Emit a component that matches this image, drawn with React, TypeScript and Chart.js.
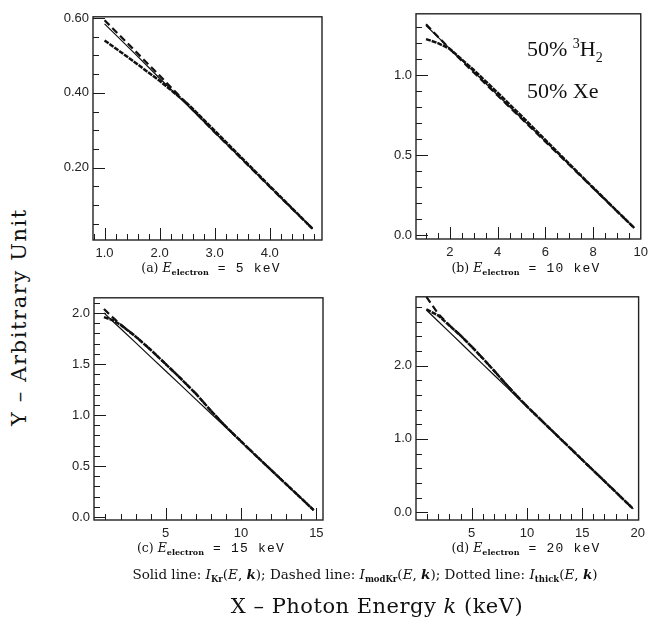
import React, { useEffect, useRef } from "react";
import { Chart, registerables } from "chart.js";
Chart.register(...registerables);

// ---------- Panel (a): E_electron = 5 keV ----------
const kA = [1.0, 1.5, 2.0, 2.5, 3.0, 3.5, 4.0, 4.5, 4.78];
const solidA = [0.584, 0.512, 0.439, 0.367, 0.294, 0.222, 0.149, 0.077, 0.037];
const dashedA = [0.594, 0.52, 0.446, 0.37, 0.295, 0.222, 0.149, 0.077, 0.037];
const dottedA = [0.54, 0.487, 0.432, 0.372, 0.299, 0.225, 0.151, 0.078, 0.037];
const xTicksA = [1.0, 2.0, 3.0, 4.0];
const yTicksA = [0.2, 0.4, 0.6];

// ---------- Panel (b): E_electron = 10 keV ----------
const kB = [1.0, 1.5, 2.0, 3.0, 4.0, 5.0, 6.0, 7.0, 8.0, 9.0, 9.72];
const solidB = [1.31, 1.237, 1.165, 1.02, 0.875, 0.73, 0.585, 0.44, 0.294, 0.149, 0.045];
const dashedB = [1.318, 1.24, 1.163, 1.016, 0.872, 0.728, 0.584, 0.439, 0.294, 0.149, 0.045];
const dottedB = [1.225, 1.2, 1.163, 1.032, 0.89, 0.744, 0.594, 0.445, 0.297, 0.15, 0.045];
const xTicksB = [2, 4, 6, 8, 10];
const yTicksB = [0.0, 0.5, 1.0];

// ---------- Panel (c): E_electron = 15 keV ----------
const kC = [0.9, 1.5, 2, 3, 4, 5, 6, 7, 8, 9, 10, 11, 12, 13, 14, 14.82];
const solidC = [2.002, 1.918, 1.849, 1.71, 1.571, 1.432, 1.293, 1.154, 1.015, 0.876, 0.737, 0.598, 0.459, 0.32, 0.181, 0.067];
const dashedC = [2.04, 1.955, 1.89, 1.772, 1.64, 1.5, 1.358, 1.21, 1.042, 0.885, 0.742, 0.6, 0.46, 0.321, 0.182, 0.067];
const dottedC = [1.96, 1.93, 1.885, 1.77, 1.64, 1.5, 1.358, 1.21, 1.042, 0.885, 0.742, 0.6, 0.46, 0.321, 0.182, 0.067];
const xTicksC = [5, 10, 15];
const yTicksC = [0.0, 0.5, 1.0, 1.5, 2.0];

// ---------- Panel (d): E_electron = 20 keV ----------
const kD = [0.92, 2, 3, 4, 5, 6, 7, 8, 9, 10, 11, 12, 13, 14, 15, 16, 17, 18, 19, 19.6];
const solidD = [2.76, 2.603, 2.457, 2.312, 2.166, 2.021, 1.876, 1.73, 1.585, 1.439, 1.294, 1.149, 1.003, 0.858, 0.712, 0.567, 0.422, 0.276, 0.131, 0.044];
const dashedD = [2.94, 2.705, 2.55, 2.414, 2.262, 2.102, 1.937, 1.766, 1.601, 1.445, 1.297, 1.151, 1.005, 0.86, 0.713, 0.568, 0.423, 0.277, 0.131, 0.044];
const dottedD = [2.77, 2.683, 2.547, 2.412, 2.261, 2.101, 1.936, 1.765, 1.6, 1.444, 1.297, 1.151, 1.005, 0.86, 0.713, 0.568, 0.423, 0.277, 0.131, 0.044];
const xTicksD = [5, 10, 15, 20];
const yTicksD = [0.0, 1.0, 2.0];

type PanelCfg = {
  frame: [number, number, number, number]; // L T R B page px
  xr: [number, number];
  yr: [number, number];
  k: number[];
  solid: number[];
  dashed: number[];
  dotted: number[];
  xt: number[];
  yt: number[];
  xdec: number;
  ydec: number;
  xminor: number;
  yminor: number;
};

const panels: PanelCfg[] = [
  { frame: [93, 13, 322, 240], xr: [0.79, 4.95], yr: [0.007, 0.603], k: kA, solid: solidA, dashed: dashedA, dotted: dottedA, xt: xTicksA, yt: yTicksA, xdec: 1, ydec: 2, xminor: 0.2, yminor: 0.05 },
  { frame: [416, 10, 642, 239], xr: [0.58, 10.0], yr: [-0.025, 1.383], k: kB, solid: solidB, dashed: dashedB, dotted: dottedB, xt: xTicksB, yt: yTicksB, xdec: 0, ydec: 1, xminor: 0.5, yminor: 0.1 },
  { frame: [94, 294, 323, 520], xr: [0.24, 15.44], yr: [-0.03, 2.15], k: kC, solid: solidC, dashed: dashedC, dotted: dottedC, xt: xTicksC, yt: yTicksC, xdec: 0, ydec: 1, xminor: 1, yminor: 0.1 },
  { frame: [416, 293, 639, 520], xr: [-0.02, 20.08], yr: [-0.107, 2.94], k: kD, solid: solidD, dashed: dashedD, dotted: dottedD, xt: xTicksD, yt: yTicksD, xdec: 0, ydec: 1, xminor: 1, yminor: 0.2 },
];

const PAD_L = 45, PAD_T = 8, PAD_R = 12, PAD_B = 24;

const frameTicks = {
  id: "frameTicks",
  afterDatasetsDraw(chart: any, _args: any, opts: any) {
    const { ctx, chartArea: a } = chart;
    const x = chart.scales.x, y = chart.scales.y;
    ctx.save();
    ctx.strokeStyle = "#1a1a1a";
    ctx.lineWidth = 1;
    const snap = (p: number) => Math.round(p) + 0.5;
    const drawX = (v: number, len: number) => {
      const p = snap(x.getPixelForValue(v));
      if (p < a.left + 1 || p > a.right - 1) return;
      ctx.beginPath(); ctx.moveTo(p, a.bottom); ctx.lineTo(p, a.bottom - len); ctx.stroke();
    };
    const drawY = (v: number, len: number) => {
      const p = snap(y.getPixelForValue(v));
      if (p < a.top + 1 || p > a.bottom - 1) return;
      ctx.beginPath(); ctx.moveTo(a.left, p); ctx.lineTo(a.left + len, p); ctx.stroke();
    };
    const xs = opts.xminor, ys = opts.yminor;
    for (let i = Math.ceil(x.min / xs - 1e-6); i * xs <= x.max + 1e-9; i++) drawX(i * xs, 6);
    for (let i = Math.ceil(y.min / ys - 1e-6); i * ys <= y.max + 1e-9; i++) drawY(i * ys, 6);
    opts.xt.forEach((v: number) => drawX(v, 12));
    opts.yt.forEach((v: number) => drawY(v, 12));
    ctx.lineWidth = 1.4;
    ctx.strokeStyle = "#222";
    ctx.strokeRect(a.left, a.top, a.right - a.left, a.bottom - a.top);
    ctx.restore();
  },
};

function Panel({ cfg }: { cfg: PanelCfg }) {
  const ref = useRef<HTMLCanvasElement | null>(null);
  const [L, T, R, B] = cfg.frame;
  const w = R - L + PAD_L + PAD_R;
  const h = B - T + PAD_T + PAD_B;
  useEffect(() => {
    if (!ref.current) return;
    const pts = (ys: number[]) => cfg.k.map((k, i) => ({ x: k, y: ys[i] }));
    const chart = new Chart(ref.current, {
      type: "line",
      data: {
        datasets: [
          { data: pts(cfg.solid), borderColor: "#111", borderWidth: 1.2, pointRadius: 0, fill: false },
          { data: pts(cfg.dashed), borderColor: "#111", borderWidth: 2.2, borderDash: [7, 4], pointRadius: 0, fill: false },
          { data: pts(cfg.dotted), borderColor: "#111", borderWidth: 2.5, borderDash: [5, 1], pointRadius: 0, fill: false },
        ],
      },
      options: {
        animation: false,
        responsive: false,
        devicePixelRatio: 1,
        layout: { padding: { left: 0, top: PAD_T, right: PAD_R, bottom: 0 } },
        plugins: {
          legend: { display: false },
          tooltip: { enabled: false },
          frameTicks: { xt: cfg.xt, yt: cfg.yt, xminor: cfg.xminor, yminor: cfg.yminor },
        } as any,
        scales: {
          x: {
            type: "linear",
            min: cfg.xr[0],
            max: cfg.xr[1],
            grid: { display: false, drawTicks: false },
            border: { display: false },
            afterBuildTicks: (s: any) => { s.ticks = cfg.xt.map((v) => ({ value: v })); },
            afterFit: (s: any) => { s.height = PAD_B; },
            ticks: {
              autoSkip: false,
              maxRotation: 0,
              padding: 6,
              color: "#222",
              font: { family: "Liberation Sans", size: 13 },
              callback: (v: any) => Number(v).toFixed(cfg.xdec),
            },
          },
          y: {
            type: "linear",
            min: cfg.yr[0],
            max: cfg.yr[1],
            grid: { display: false, drawTicks: false },
            border: { display: false },
            afterBuildTicks: (s: any) => { s.ticks = cfg.yt.map((v) => ({ value: v })); },
            afterFit: (s: any) => { s.width = PAD_L; },
            ticks: {
              autoSkip: false,
              padding: 4,
              color: "#222",
              font: { family: "Liberation Sans", size: 13 },
              callback: (v: any) => Number(v).toFixed(cfg.ydec),
            },
          },
        },
      },
      plugins: [frameTicks],
    } as any);
    return () => chart.destroy();
  }, [cfg]);
  return (
    <canvas
      ref={ref}
      width={w}
      height={h}
      style={{ position: "absolute", left: L - PAD_L, top: T - PAD_T, width: w, height: h }}
    />
  );
}

const serif = "'DejaVu Serif', 'Liberation Serif', serif";
const times = "'Liberation Serif', serif";
const mono = "'Liberation Mono', 'DejaVu Sans Mono', monospace";

function Sub({ letter, e, cx, cy }: { letter: string; e: number; cx: number; cy: number }) {
  return (
    <div style={{ position: "absolute", left: cx, top: cy, transform: "translate(-50%,-50%)", whiteSpace: "nowrap", fontFamily: serif, fontSize: 12.5, color: "#111", lineHeight: 1 }}>
      ({letter}) <i>E</i>
      <span style={{ fontSize: 8, fontWeight: "bold", position: "relative", top: 3 }}>electron</span>
      <span style={{ fontFamily: mono, fontSize: 13, letterSpacing: 1.2 }}> = {e} keV</span>
    </div>
  );
}

const subB: React.CSSProperties = { fontSize: 8.5, fontWeight: "bold", fontStyle: "normal", position: "relative", top: 3 };

export default function App() {
  return (
    <div style={{ position: "fixed", left: 0, top: 0, width: 649, height: 624, background: "#fff", overflow: "hidden" }}>
      {panels.map((p, i) => (
        <Panel key={i} cfg={p} />
      ))}
      <Sub letter="a" e={5} cx={211} cy={268} />
      <Sub letter="b" e={10} cx={526} cy={268} />
      <Sub letter="c" e={15} cx={211} cy={548} />
      <Sub letter="d" e={20} cx={526} cy={548} />
      <div style={{ position: "absolute", left: 527, top: 27, fontFamily: times, fontSize: 22, color: "#111", lineHeight: "33px", whiteSpace: "nowrap" }}>
        <div>50% <sup style={{ fontSize: 14 }}>3</sup>H<sub style={{ fontSize: 14 }}>2</sub></div>
        <div>50% Xe</div>
      </div>
      <div style={{ position: "absolute", left: 365, top: 575, transform: "translate(-50%,-50%)", whiteSpace: "nowrap", fontFamily: serif, fontSize: 13.5, color: "#111", lineHeight: 1 }}>
        Solid line: <i>I</i><span style={subB}>Kr</span>(<i>E</i>, <b><i>k</i></b>); Dashed line: <i>I</i><span style={subB}>modKr</span>(<i>E</i>, <b><i>k</i></b>); Dotted line: <i>I</i><span style={subB}>thick</span>(<i>E</i>, <b><i>k</i></b>)
      </div>
      <div style={{ position: "absolute", left: 377, top: 606, transform: "translate(-50%,-50%)", whiteSpace: "nowrap", fontFamily: serif, fontSize: 21, color: "#111", lineHeight: 1, letterSpacing: 0.5 }}>
        X – Photon Energy <i>k</i> (keV)
      </div>
      <div style={{ position: "absolute", left: 19, top: 317, transform: "translate(-50%,-50%) rotate(-90deg)", whiteSpace: "nowrap", fontFamily: serif, fontSize: 21, color: "#111", lineHeight: 1, letterSpacing: 1.6 }}>
        Y – Arbitrary Unit
      </div>
    </div>
  );
}
